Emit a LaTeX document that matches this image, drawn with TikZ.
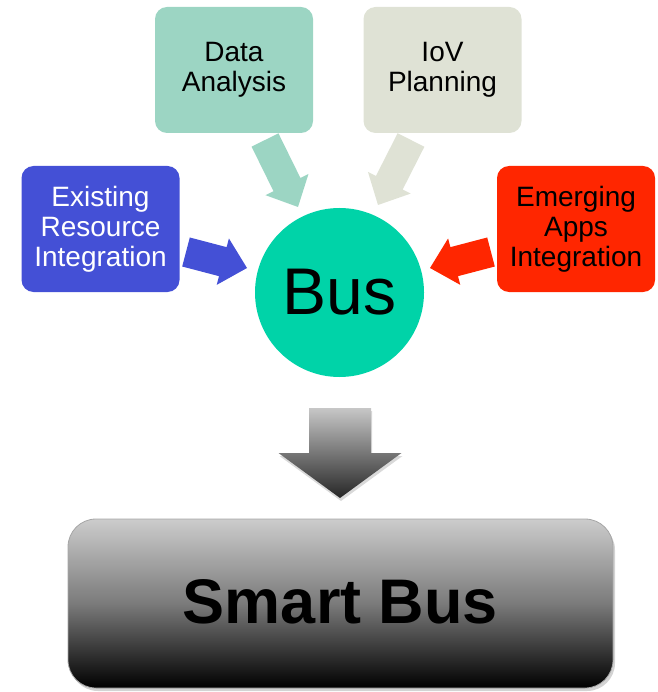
\documentclass[tikz,border=0pt]{standalone}
\usepackage{fontspec}
\setmainfont{Liberation Sans}
\usetikzlibrary{calc,shadows}
\definecolor{dataC}{HTML}{9CD5C3}
\definecolor{iovC}{HTML}{DFE2D5}
\definecolor{exC}{HTML}{4450D6}
\definecolor{emC}{HTML}{FF2600}
\definecolor{busC}{HTML}{00D3A8}
% block arrow: #1 style, #2 start, #3 tip, #4 shaft half width, #5 head half width, #6 head length
\newcommand{\blockarr}[6]{%
  \coordinate (ba-h) at ($(#3)!#6!(#2)$);
  \path[#1] ($(#2)!#4!90:(#3)$) -- ($(ba-h)!#4!-90:(#2)$) -- ($(ba-h)!#5!-90:(#2)$) -- (#3)
    -- ($(ba-h)!#5!90:(#2)$) -- ($(ba-h)!#4!90:(#2)$) -- ($(#2)!#4!-90:(#3)$) -- cycle;
}
\begin{document}
\begin{tikzpicture}[x=1pt,y=-1pt,
  box/.style={rounded corners=12pt, minimum width=158pt, minimum height=126pt,
    align=center, inner sep=0pt, font=\fontsize{28}{30}\selectfont},
]
\useasboundingbox (0,0) rectangle (657,692);
% nodes
\node[box, fill=dataC] (data) at (234,70) {Data\\Analysis};
\node[box, fill=iovC] (iov) at (442.5,70) {IoV\\Planning};
\node[box, fill=exC, text=white] (ex) at (100.5,229) {Existing\\Resource\\Integration};
\node[box, fill=emC] (em) at (576,229) {Emerging\\Apps\\Integration};
\node[circle, fill=busC, minimum size=169pt, inner sep=0pt, font=\fontsize{66}{70}\selectfont] (bus) at (339.5,292.5) {Bus};
\node[rounded corners=28pt, minimum width=545pt, minimum height=169pt,
  top color=black!20, bottom color=black, middle color=black!52, draw=black!35, line width=0.8pt,
  drop shadow={opacity=0.35, shadow xshift=2pt, shadow yshift=-3pt},
  font=\fontsize{63}{66}\selectfont\bfseries] (smart) at (340.5,603.5) {\raisebox{5pt}{Smart Bus}};
% arrow endpoints
\coordinate (dA) at (265,140); \coordinate (dB) at (298,207);
\coordinate (iA) at (411,140); \coordinate (iB) at (378,205);
\coordinate (eA) at (186,252); \coordinate (eB) at (247,268);
\coordinate (mA) at (491,252); \coordinate (mB) at (430,268);
\coordinate (gA) at (340,408); \coordinate (gB) at (340,498);
\blockarr{fill=dataC}{dA}{dB}{15pt}{24pt}{25pt}
\blockarr{fill=iovC}{iA}{iB}{15pt}{24pt}{25pt}
\blockarr{fill=exC}{eA}{eB}{15pt}{24pt}{25pt}
\blockarr{fill=emC}{mA}{mB}{15pt}{24pt}{25pt}
\blockarr{top color=black!22, bottom color=black!85, drop shadow={opacity=0.3, shadow xshift=1pt, shadow yshift=-3pt}}{gA}{gB}{31pt}{61.5pt}{45pt}
\end{tikzpicture}
\end{document}
